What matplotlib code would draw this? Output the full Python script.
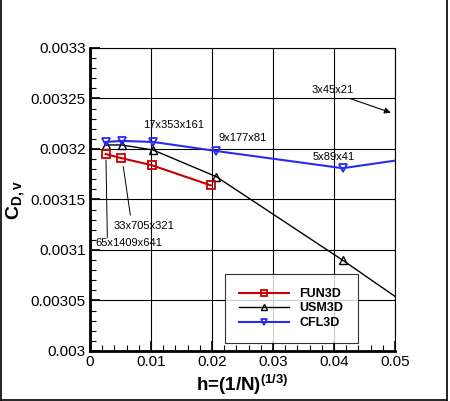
import matplotlib
matplotlib.use("Agg")
import matplotlib.pyplot as plt
from matplotlib.ticker import MultipleLocator, FixedLocator
from matplotlib.lines import Line2D

plt.rcParams['font.family'] = ['Liberation Sans', 'DejaVu Sans']

# Data
fun3d_h = [0.00257, 0.00512, 0.0101, 0.0198]
fun3d_cd = [0.003195, 0.003191, 0.003184, 0.003164]

usm3d_h = [0.00259, 0.00518, 0.01035, 0.0207, 0.0414, 0.0828]
usm3d_cd = [0.003204, 0.003204, 0.003199, 0.0031726, 0.003090, 0.002917]

cfl3d_h = [0.00259, 0.00518, 0.01035, 0.0207, 0.0414, 0.0828]
cfl3d_cd = [0.003207, 0.003208, 0.003207, 0.003198, 0.003181, 0.003217]

xticks = [0, 0.01, 0.02, 0.03, 0.04, 0.05]
xticklabels = ['0', '0.01', '0.02', '0.03', '0.04', '0.05']
yticks = [0.003, 0.00305, 0.0031, 0.00315, 0.0032, 0.00325, 0.0033]
yticklabels = ['0.003', '0.00305', '0.0031', '0.00315', '0.0032', '0.00325', '0.0033']

fig = plt.figure(figsize=(4.5, 4.01), dpi=100)
ax = fig.add_axes([0.2, 0.1247, 0.6778, 0.7556])

red = '#c80000'
blue = '#2a2af0'
ax.plot(fun3d_h, fun3d_cd, color=red, lw=1.5, marker='s', ms=5.5,
        mfc='none', mec=red, mew=1.3, label='FUN3D', zorder=4)
ax.plot(usm3d_h, usm3d_cd, color='black', lw=1.0, marker='^', ms=6,
        mfc='none', mec='black', mew=1.0, label='USM3D', zorder=3)
ax.plot(cfl3d_h, cfl3d_cd, color=blue, lw=1.5, marker='v', ms=6,
        mfc='none', mec=blue, mew=1.3, label='CFL3D', zorder=4)

ax.set_xlim(0, 0.05)
ax.set_ylim(0.003, 0.0033)
ax.xaxis.set_major_locator(FixedLocator(xticks))
ax.set_xticklabels(xticklabels)
ax.yaxis.set_major_locator(FixedLocator(yticks))
ax.set_yticklabels(yticklabels)
ax.xaxis.set_minor_locator(MultipleLocator(0.002))
ax.yaxis.set_minor_locator(MultipleLocator(0.00001))
ax.grid(True, which='major', color='black', lw=0.8)
ax.tick_params(which='major', direction='in', length=7, width=1.2,
               labelsize=11, top=False, right=False, pad=3)
ax.tick_params(which='minor', direction='in', length=4, width=0.8,
               top=False, right=False)
for s in ['left', 'bottom']:
    ax.spines[s].set_linewidth(2)
for s in ['top', 'right']:
    ax.spines[s].set_linewidth(0.8)

ax.set_xlabel(r'h=(1/N)$^{\mathregular{(1/3)}}$', fontsize=13.5, fontweight='bold', labelpad=2)
ax.set_ylabel(r'C$_{\mathregular{D,v}}$', fontsize=14, fontweight='bold', labelpad=2)

# annotations
fs = 8
ax.text(0.01366, 0.0032238, '17x353x161', fontsize=fs, ha='center', va='center')
ax.text(0.02508, 0.0032106, '9x177x81', fontsize=fs, ha='center', va='center')
ax.text(0.0399, 0.0031918, '5x89x41', fontsize=fs, ha='center', va='center')
ax.text(0.0398, 0.0032584, '3x45x21', fontsize=fs, ha='center', va='center')
ax.text(0.0089, 0.003124, '33x705x321', fontsize=fs, ha='center', va='center')
ax.text(0.00639, 0.0031073, '65x1409x641', fontsize=fs, ha='center', va='center')
ax.annotate('', xy=(0.0493, 0.003236), xytext=(0.04262, 0.00325),
            arrowprops=dict(arrowstyle='-|>', color='black', lw=0.8,
                            mutation_scale=9, shrinkA=0, shrinkB=0))
ax.plot([0.00661, 0.00546], [0.0031347, 0.0031825], color='black', lw=0.7)
ax.plot([0.00284, 0.00262], [0.0031126, 0.003189], color='black', lw=0.7)

leg = ax.legend(loc='center', bbox_to_anchor=(0.4534, 0.030, 0.4122, 0.221),
                frameon=True, fancybox=False, handlelength=4.0,
                borderpad=1.15, labelspacing=0.2, handletextpad=0.8,
                borderaxespad=0,
                prop={'weight': 'bold', 'size': 9}, markerscale=0.75)
leg.get_frame().set_edgecolor('black')
leg.get_frame().set_linewidth(0.8)
leg.set_zorder(10)

# figure border (left, right, bottom)
fig.add_artist(Line2D([0.002, 0.002], [0.002, 1.0], color='black', lw=1.2, transform=fig.transFigure))
fig.add_artist(Line2D([0.994, 0.994], [0.002, 1.0], color='black', lw=1.2, transform=fig.transFigure))
fig.add_artist(Line2D([0.002, 0.994], [0.002, 0.002], color='black', lw=1.2, transform=fig.transFigure))

fig.savefig('out.png', dpi=100)
